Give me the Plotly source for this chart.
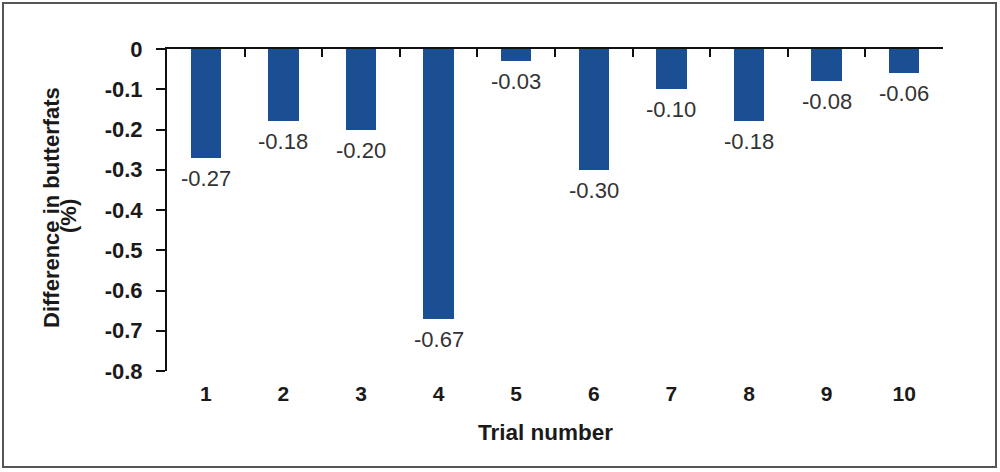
import plotly.graph_objects as go

trials = [1, 2, 3, 4, 5, 6, 7, 8, 9, 10]
differences = [-0.27, -0.18, -0.20, -0.67, -0.03, -0.30, -0.10, -0.18, -0.08, -0.06]
y_ticks = [0, -0.1, -0.2, -0.3, -0.4, -0.5, -0.6, -0.7, -0.8]
y_tick_labels = ["0", "-0.1", "-0.2", "-0.3", "-0.4", "-0.5", "-0.6", "-0.7", "-0.8"]
labels = [f"{v:.2f}" for v in differences]

W, H = 1000, 472
L, R, T, B = 167, 57, 49, 101
pw, ph = W - L - R, H - T - B
FONT = "Liberation Sans, Arial"

fig = go.Figure()
fig.add_trace(go.Bar(
    x=trials, y=differences, width=0.39,
    marker=dict(color="#1b4f93", line=dict(width=0)),
    xaxis="x", yaxis="y", hoverinfo="skip",
))
fig.add_trace(go.Scatter(x=[1], y=[0], xaxis="x2", yaxis="y", mode="markers",
                         marker=dict(opacity=0), showlegend=False, hoverinfo="skip"))

annotations = [
    dict(x=t, y=v, text=lab, xref="x", yref="y", showarrow=False,
         xanchor="center", yanchor="top", yshift=-6,
         font=dict(size=22, family=FONT, color="#333333"))
    for t, v, lab in zip(trials, differences, labels)
]
annotations += [
    dict(text="<b>Difference in butterfats</b>", textangle=-90,
         xref="paper", yref="paper", x=(51 - L) / pw, y=(H - B - 208) / ph,
         xanchor="center", yanchor="middle", showarrow=False,
         font=dict(size=22, family=FONT, color="#1a1a1a")),
    dict(text="<b>(%)</b>", textangle=-90,
         xref="paper", yref="paper", x=(69 - L) / pw, y=(H - B - 216) / ph,
         xanchor="center", yanchor="middle", showarrow=False,
         font=dict(size=22, family=FONT, color="#1a1a1a")),
    dict(text="<b>Trial number</b>",
         xref="paper", yref="paper", x=(545 - L) / pw, y=(H - B - 432) / ph,
         xanchor="center", yanchor="middle", showarrow=False,
         font=dict(size=22.5, family=FONT, color="#1a1a1a")),
]

fig.update_layout(
    width=W, height=H,
    margin=dict(l=L, r=R, t=T, b=B, autoexpand=False),
    paper_bgcolor="white", plot_bgcolor="white",
    showlegend=False,
    font=dict(family=FONT, color="#1a1a1a"),
    xaxis=dict(
        range=[0.5, 10.5], tickvals=trials, ticktext=[str(t) for t in trials],
        showline=False, showgrid=False, zeroline=False, automargin=False,
        ticks="", ticklabelstandoff=8,
        tickfont=dict(size=21, family=FONT, weight="bold"),
    ),
    xaxis2=dict(
        range=[0.5, 10.5], overlaying="x", side="top", anchor="y",
        tickvals=[i + 0.5 for i in range(0, 11)], showticklabels=False,
        showline=True, linecolor="#111111", linewidth=2,
        ticks="inside", ticklen=8, tickwidth=2, tickcolor="#111111",
        showgrid=False, zeroline=False, automargin=False,
    ),
    yaxis=dict(
        range=[-0.8, 0], tickvals=y_ticks, ticktext=y_tick_labels,
        showline=True, linecolor="#111111", linewidth=2,
        ticks="outside", ticklen=9, tickwidth=2, tickcolor="#111111",
        ticklabelstandoff=9,
        showgrid=False, zeroline=False, automargin=False,
        tickfont=dict(size=22, family=FONT, weight="bold"),
    ),
    bargap=0,
    annotations=annotations,
)

fig.add_shape(type="rect", xref="paper", yref="paper",
              x0=(3 - L) / pw, x1=(996 - L) / pw,
              y0=(H - B - 467) / ph, y1=(H - B - 3) / ph,
              line=dict(color="#555555", width=2), fillcolor="rgba(0,0,0,0)", layer="above")

fig.write_html("out.html", config={"displayModeBar": False},
               post_script="document.body.style.margin='0';")
